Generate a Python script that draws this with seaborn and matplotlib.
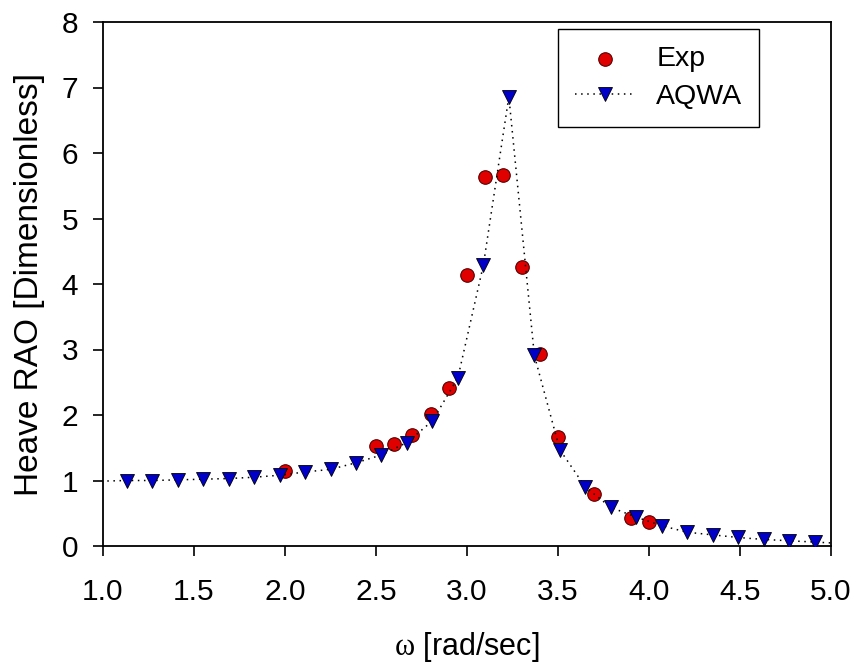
import numpy as np
import pandas as pd
import seaborn as sns
import matplotlib
matplotlib.use("Agg")
import matplotlib.pyplot as plt

# ---- data ----
exp_omega = [2.0, 2.5, 2.6, 2.7, 2.8, 2.9, 3.0, 3.1, 3.2, 3.3, 3.4, 3.5, 3.7, 3.9, 4.0]
exp_rao = [1.14, 1.52, 1.55, 1.69, 2.02, 2.41, 4.14, 5.63, 5.66, 4.26, 2.93, 1.66, 0.80, 0.43, 0.36]

aqwa_omega = [0.99, 1.13, 1.27, 1.41, 1.55, 1.69, 1.83, 1.97, 2.11, 2.25, 2.39, 2.53, 2.67,
              2.81, 2.95, 3.09, 3.23, 3.37, 3.51, 3.65, 3.79, 3.93, 4.07, 4.21, 4.35, 4.49,
              4.63, 4.77, 4.91, 5.05]
aqwa_rao = [0.99, 1.00, 1.00, 1.01, 1.02, 1.03, 1.05, 1.08, 1.13, 1.17, 1.27, 1.39, 1.58,
            1.91, 2.57, 4.29, 6.86, 2.91, 1.47, 0.90, 0.59, 0.44, 0.31, 0.21, 0.17, 0.13,
            0.10, 0.08, 0.06, 0.04]

x_ticks = [1.0, 1.5, 2.0, 2.5, 3.0, 3.5, 4.0, 4.5, 5.0]
y_ticks = [0, 1, 2, 3, 4, 5, 6, 7, 8]

plt.rcParams['font.family'] = ['Liberation Sans', 'DejaVu Sans']
plt.rcParams['mathtext.fontset'] = 'custom'
plt.rcParams['mathtext.rm'] = 'Liberation Serif'
plt.rcParams['mathtext.it'] = 'Liberation Serif:italic'

df_exp = pd.DataFrame({"omega": exp_omega, "rao": exp_rao})
df_aqwa = pd.DataFrame({"omega": aqwa_omega, "rao": aqwa_rao})

fig = plt.figure(figsize=(8.57, 6.64), dpi=100)
ax = fig.add_axes([103 / 857, 1 - 546 / 664, 728 / 857, 524 / 664])

sns.scatterplot(data=df_exp, x="omega", y="rao", ax=ax, marker="o", s=95,
                color="#e00000", edgecolor="#5a0000", linewidth=0.8,
                label="Exp", zorder=3)
sns.lineplot(data=df_aqwa, x="omega", y="rao", ax=ax, estimator=None,
             color="black", linestyle=(0, (1, 3)), linewidth=1.1,
             marker="v", markersize=10, markerfacecolor="#0000c8",
             markeredgecolor="black", markeredgewidth=0.6,
             markevery=slice(1, len(aqwa_omega) - 1),
             label="AQWA", zorder=4)

ax.set_xlim(1.0, 5.0)
ax.set_ylim(0, 8)
ax.set_xticks(x_ticks)
ax.set_xticklabels([f"{v:.1f}" for v in x_ticks])
ax.set_yticks(y_ticks)
ax.set_yticklabels([str(v) for v in y_ticks])

ax.tick_params(axis="both", direction="out", length=7, width=1.2, labelsize=21.5,
               colors="black")
ax.tick_params(axis="x", pad=16)
ax.tick_params(axis="y", pad=11)
for sp in ax.spines.values():
    sp.set_linewidth(1.3)
    sp.set_color("black")
    sp.set_visible(True)

ax.set_xlabel(r"$\mathrm{\omega}$ [rad/sec]", fontsize=22)
ax.set_ylabel("Heave RAO [Dimensionless]", fontsize=24)
ax.xaxis.set_label_coords(0.499, (546 - 647) / 524)
ax.xaxis.label.set_va("center")
ax.yaxis.set_label_coords((30 - 103) / 728, (546 - 285) / 524)
ax.yaxis.label.set_va("center")

leg = ax.legend(loc="upper left", bbox_to_anchor=((558 - 103) / 728, (546 - 29) / 524),
                fontsize=20.5, frameon=True, fancybox=False, edgecolor="black",
                framealpha=1, handlelength=2.1, handletextpad=0.75,
                labelspacing=0.42, borderpad=0.6, borderaxespad=0)
leg.get_frame().set_linewidth(1.0)

ax.grid(False)
fig.savefig("out.png", dpi=100, facecolor="white")
